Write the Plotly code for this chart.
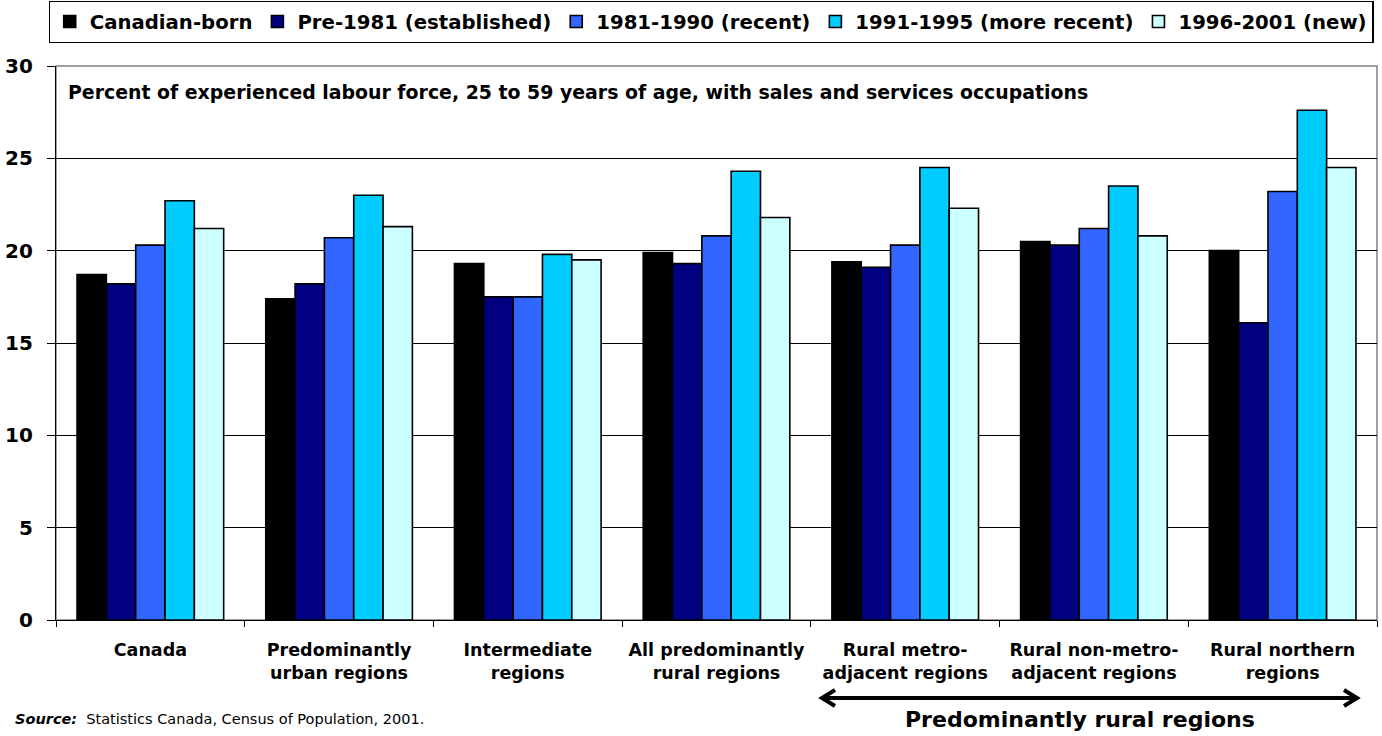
import plotly.graph_objects as go

categories = [
    "Canada",
    "Predominantly<br>urban regions",
    "Intermediate<br>regions",
    "All predominantly<br>rural regions",
    "Rural metro-<br>adjacent regions",
    "Rural non-metro-<br>adjacent regions",
    "Rural northern<br>regions",
]
series_names = [
    "Canadian-born",
    "Pre-1981 (established)",
    "1981-1990 (recent)",
    "1991-1995 (more recent)",
    "1996-2001 (new)",
]
canadian_born = [18.7, 17.4, 19.3, 19.9, 19.4, 20.5, 20.0]
pre_1981 = [18.2, 18.2, 17.5, 19.3, 19.1, 20.3, 16.1]
y1981_1990 = [20.3, 20.7, 17.5, 20.8, 20.3, 21.2, 23.2]
y1991_1995 = [22.7, 23.0, 19.8, 24.3, 24.5, 23.5, 27.6]
y1996_2001 = [21.2, 21.3, 19.5, 21.8, 22.3, 20.8, 24.5]
series_values = [canadian_born, pre_1981, y1981_1990, y1991_1995, y1996_2001]
colors = ["#000000", "#000080", "#3366FF", "#00CCFF", "#CCFFFF"]
y_ticks = [0, 5, 10, 15, 20, 25, 30]

BOLD = "DejaVu Sans"

fig = go.Figure()
for name, vals, col in zip(series_names, series_values, colors):
    fig.add_trace(go.Bar(
        name=name, x=categories, y=vals,
        marker=dict(color=col, line=dict(color="#000000", width=1.6)),
    ))

# plot geometry in px (for paper conversions of decorations)
L, R, T, B = 56, 5, 66, 116
W, H = 1382, 736
pw, ph = W - L - R, H - T - B


def px_x(px):
    return (px - L) / pw


def px_y(py):
    return (H - B - py) / ph


fig.update_layout(
    width=W, height=H,
    margin=dict(l=L, r=R, t=T, b=B, autoexpand=False),
    paper_bgcolor="white", plot_bgcolor="white",
    barmode="group", bargap=0.223, bargroupgap=0,
    showlegend=True,
    legend=dict(
        orientation="h", xref="container", x=711 / W, xanchor="center",
        yref="container", y=1 - 1 / H, yanchor="top",
        bordercolor="#000000", borderwidth=1.2, bgcolor="white",
        font=dict(family=BOLD, size=19.7, color="#000000", weight="bold"),
        itemwidth=30, tracegroupgap=0,
    ),
    xaxis=dict(
        type="category", showgrid=False, showline=True, linecolor="#000000", linewidth=1.2,
        ticks="outside", tickson="boundaries", ticklen=6, tickcolor="#000000",
        tickfont=dict(family=BOLD, size=17.5, color="#000000", weight="bold"),
        ticklabelstandoff=14, automargin=False,
    ),
    yaxis=dict(
        range=[0, 30], tickvals=y_ticks, showgrid=True, gridcolor="#000000", gridwidth=1,
        showline=True, linecolor="#000000", linewidth=1.2,
        ticks="outside", ticklen=8, tickcolor="#000000",
        tickfont=dict(family=BOLD, size=20, color="#000000", weight="bold"),
        ticklabelstandoff=10, zeroline=False, automargin=False,
    ),
)

# grey plot-area border (top and right)
fig.add_shape(type="rect", xref="paper", yref="paper", x0=0, x1=1, y0=0, y1=1,
              line=dict(color="#808080", width=1.5), layer="below")

fig.add_annotation(
    xref="paper", yref="paper", x=px_x(66), y=px_y(79), xanchor="left", yanchor="top",
    text="Percent of experienced labour force, 25 to 59 years of age, with sales and services occupations",
    showarrow=False, font=dict(family=BOLD, size=18.9, color="#000000", weight="bold"),
)

fig.add_annotation(
    xref="paper", yref="paper", x=px_x(13), y=px_y(719), xanchor="left", yanchor="middle",
    text="<b><i>Source:</i></b>  Statistics Canada, Census of Population, 2001.",
    showarrow=False, font=dict(family="DejaVu Sans", size=14.5, color="#000000"),
)

fig.add_annotation(
    xref="paper", yref="paper", x=px_x(1080), y=px_y(719), xanchor="center", yanchor="middle",
    text="Predominantly rural regions",
    showarrow=False, font=dict(family=BOLD, size=22, color="#000000", weight="bold"),
)

# double-headed arrow
ya = px_y(698)
xl, xr = px_x(822), px_x(1357)
dx = 13 / pw
dy = 8 / ph
fig.add_shape(type="line", xref="paper", yref="paper", x0=xl + 2 / pw, x1=xr - 2 / pw, y0=ya, y1=ya,
              line=dict(color="#000000", width=4))
fig.add_shape(type="path", xref="paper", yref="paper",
              path=f"M {xl + dx} {ya + dy} L {xl} {ya} L {xl + dx} {ya - dy}",
              line=dict(color="#000000", width=4))
fig.add_shape(type="path", xref="paper", yref="paper",
              path=f"M {xr - dx} {ya + dy} L {xr} {ya} L {xr - dx} {ya - dy}",
              line=dict(color="#000000", width=4))

fig.write_html("out.html", config={"displayModeBar": False},
               post_script="document.body.style.margin='0px';")
